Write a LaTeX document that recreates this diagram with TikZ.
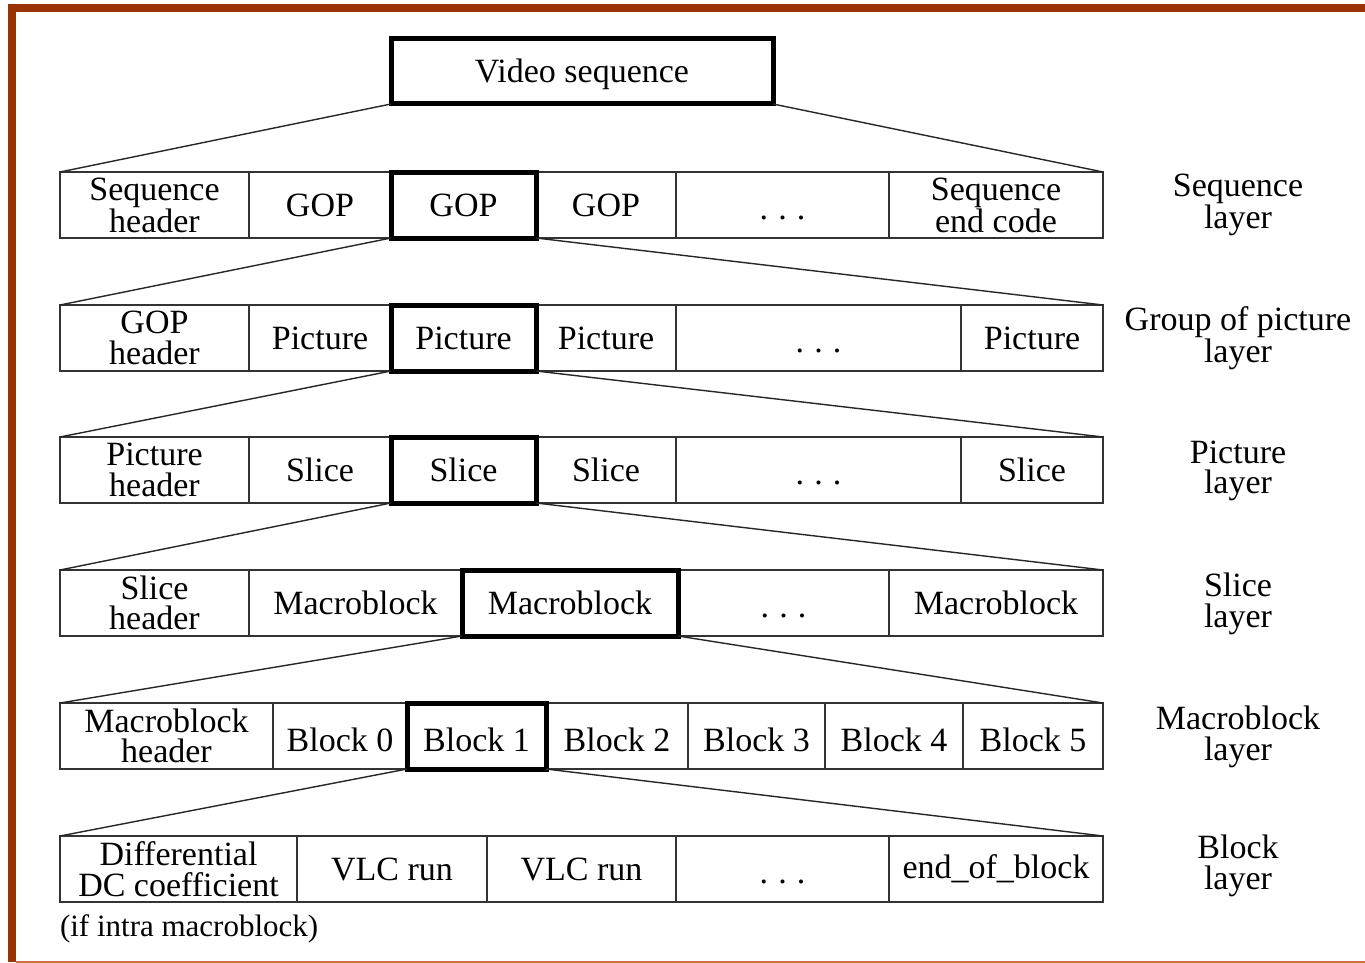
\documentclass[tikz,border=0pt]{standalone}
\usepackage{fontspec}
\setmainfont{Liberation Serif}
\definecolor{frame}{HTML}{993300}
\definecolor{frameb}{HTML}{C8704A}
\newcommand\mkcell[7]{%
  \pgfmathsetmacro\cw{#3-#2}\pgfmathsetmacro\ch{#5-#4}%
  \node[#6, minimum width=\cw pt, minimum height=\ch pt] (#1) at ({(#2+#3)/2},{(#4+#5)/2}) {#7};}
\newcommand\dotsx{\vphantom{G}\smash{\raisebox{-3pt}{.\hspace{0.3em}.\hspace{0.3em}.}}}
\newcommand\lowtxt[2][4pt]{\vphantom{#2}\smash{\raisebox{-#1}{#2}}}
\begin{document}
\begin{tikzpicture}[x=1pt,y=-1pt,
  every node/.style={outer sep=0pt, inner sep=0pt, align=center, font=\fontsize{34}{30.5}\selectfont},
  cell/.style={draw=black!80, line width=1.8pt},
  hot/.style={draw=black, line width=5pt},
  fan/.style={draw=black!85, line width=1.4pt},
  layerlab/.style={}]
\useasboundingbox (0,0) rectangle (1365,963);
% frame
\fill[frame] (8,4) rectangle (1365,12);
\fill[frame] (8,4) rectangle (16,962);
\draw[frameb, line width=1.5pt] (16,962) -- (1365,962);
% top
\mkcell{vs}{391}{773}{39}{104}{hot}{\lowtxt[3pt]{Video sequence}}
% row 1
\mkcell{a1}{60}{249}{172}{238}{cell}{Sequence\\header}
\mkcell{a2}{249}{391}{172}{238}{cell}{GOP}
\mkcell{a4}{536}{676}{172}{238}{cell}{GOP}
\mkcell{a5}{676}{889}{172}{238}{cell}{\dotsx}
\mkcell{a6}{889}{1103}{172}{238}{cell}{Sequence\\end code}
\mkcell{a3}{391}{536}{172}{238}{hot}{GOP}
% row 2
\mkcell{b1}{60}{249}{305}{371}{cell}{GOP\\header}
\mkcell{b2}{249}{391}{305}{371}{cell}{Picture}
\mkcell{b4}{536}{676}{305}{371}{cell}{Picture}
\mkcell{b5}{676}{961}{305}{371}{cell}{\dotsx}
\mkcell{b6}{961}{1103}{305}{371}{cell}{Picture}
\mkcell{b3}{391}{536}{305}{371}{hot}{Picture}
% row 3
\mkcell{c1}{60}{249}{437}{503}{cell}{Picture\\header}
\mkcell{c2}{249}{391}{437}{503}{cell}{Slice}
\mkcell{c4}{536}{676}{437}{503}{cell}{Slice}
\mkcell{c5}{676}{961}{437}{503}{cell}{\dotsx}
\mkcell{c6}{961}{1103}{437}{503}{cell}{Slice}
\mkcell{c3}{391}{536}{437}{503}{hot}{Slice}
% row 4
\mkcell{d1}{60}{249}{570}{636}{cell}{Slice\\header}
\mkcell{d2}{249}{462}{570}{636}{cell}{Macroblock}
\mkcell{d4}{678}{889}{570}{636}{cell}{\dotsx}
\mkcell{d5}{889}{1103}{570}{636}{cell}{Macroblock}
\mkcell{d3}{462}{678}{570}{636}{hot}{Macroblock}
% row 5
\mkcell{e1}{60}{273}{703}{769}{cell}{Macroblock\\header}
\mkcell{e2}{273}{407}{703}{769}{cell}{\lowtxt{Block 0}}
\mkcell{e4}{546}{688}{703}{769}{cell}{\lowtxt{Block 2}}
\mkcell{e5}{688}{825}{703}{769}{cell}{\lowtxt{Block 3}}
\mkcell{e6}{825}{963}{703}{769}{cell}{\lowtxt{Block 4}}
\mkcell{e7}{963}{1103}{703}{769}{cell}{\lowtxt{Block 5}}
\mkcell{e3}{407}{546}{703}{769}{hot}{\lowtxt{Block 1}}
% row 6
\mkcell{f1}{60}{297}{836}{902}{cell}{Differential\\DC coefficient}
\mkcell{f2}{297}{487}{836}{902}{cell}{VLC run}
\mkcell{f3}{487}{676}{836}{902}{cell}{VLC run}
\mkcell{f4}{676}{889}{836}{902}{cell}{\dotsx}
\mkcell{f5}{889}{1103}{836}{902}{cell}{end\_of\_block}
\node[anchor=west, font=\fontsize{31}{31}\selectfont] (note) at (60,929) {(if intra macroblock)};
% fan lines
\draw[fan] (vs.south west) -- (a1.north west);
\draw[fan] (vs.south east) -- (a6.north east);
\draw[fan] (a3.south west) -- (b1.north west);
\draw[fan] (a3.south east) -- (b6.north east);
\draw[fan] (b3.south west) -- (c1.north west);
\draw[fan] (b3.south east) -- (c6.north east);
\draw[fan] (c3.south west) -- (d1.north west);
\draw[fan] (c3.south east) -- (d5.north east);
\draw[fan] (d3.south west) -- (e1.north west);
\draw[fan] (d3.south east) -- (e7.north east);
\draw[fan] (e3.south west) -- (f1.north west);
\draw[fan] (e3.south east) -- (f5.north east);
% layer labels
\node[layerlab] (l1) at (1238,205) {Sequence\\layer};
\node[layerlab] (l2) at (1238,338) {Group of picture\\layer};
\node[layerlab] (l3) at (1238,471) {Picture\\layer};
\node[layerlab] (l4) at (1238,604) {Slice\\layer};
\node[layerlab] (l5) at (1238,737) {Macroblock\\layer};
\node[layerlab] (l6) at (1238,866) {Block\\layer};
\end{tikzpicture}
\end{document}
